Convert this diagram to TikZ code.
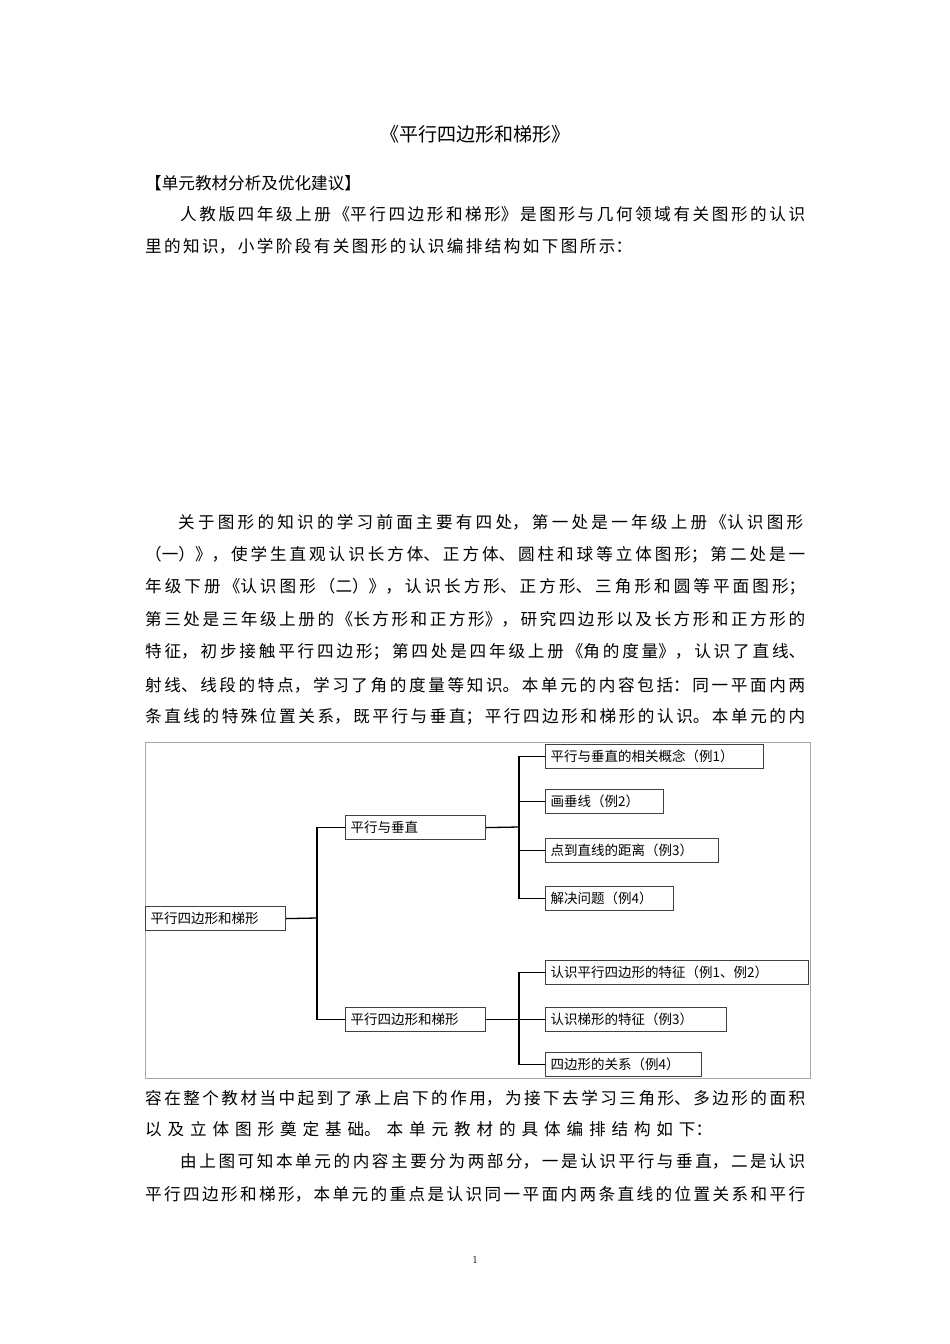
\documentclass[tikz,border=0pt]{standalone}
\usepackage{fontspec}
\newfontfamily\cjk{Noto Sans CJK SC}
\XeTeXlinebreaklocale "zh"
\XeTeXlinebreakskip=0pt plus 3pt
\newcommand{\jl}[1]{{\parfillskip=0pt\parindent=0pt #1\par}}
\begin{document}
\begin{tikzpicture}[x=1pt,y=-1pt,
  body/.style={anchor=west,inner sep=0,font=\cjk\fontsize{16.6}{18}\selectfont},
  fl/.style={body,text width=660pt,align=justify},
  il/.style={body,text width=625pt,align=justify},
  bx/.style={draw=black!75,line width=1.2pt,anchor=north west,inner ysep=0,inner xsep=5pt,minimum height=24pt,font=\cjk\fontsize{13.5}{15}\selectfont,align=left},
  ln/.style={line width=1.3pt}]
\useasboundingbox (0,0) rectangle (950,1344);
\node[anchor=center,font=\cjk\fontsize{19}{22}\selectfont] (title) at (475,134) {《平行四边形和梯形》};
\node[body] (h) at (145,183) {【单元教材分析及优化建议】};
\node[il] (p1) at (180,214) {\jl{人教版四年级上册《平行四边形和梯形》是图形与几何领域有关图形的认识}};
\node[body,text width=487pt,align=justify] (p2) at (145,246) {\jl{里的知识，小学阶段有关图形的认识编排结构如下图所示：}};
\node[il] (q1) at (178,522) {\jl{关于图形的知识的学习前面主要有四处，第一处是一年级上册《认识图形}};
\node[fl] (q2) at (145,555) {\jl{（一）》，使学生直观认识长方体、正方体、圆柱和球等立体图形；第二处是一}};
\node[fl] (q3) at (145,587) {\jl{年级下册《认识图形（二）》，认识长方形、正方形、三角形和圆等平面图形；}};
\node[fl] (q4) at (145,619) {\jl{第三处是三年级上册的《长方形和正方形》，研究四边形以及长方形和正方形的}};
\node[fl] (q5) at (145,652) {\jl{特征，初步接触平行四边形；第四处是四年级上册《角的度量》，认识了直线、}};
\node[fl] (q6) at (145,685) {\jl{射线、线段的特点，学习了角的度量等知识。本单元的内容包括：同一平面内两}};
\node[fl] (q7) at (145,717) {\jl{条直线的特殊位置关系，既平行与垂直；平行四边形和梯形的认识。本单元的内}};
\node[fl] (r1) at (145,1098) {\jl{容在整个教材当中起到了承上启下的作用，为接下去学习三角形、多边形的面积}};
\node[body,text width=567pt,align=justify] (r2) at (145,1129) {\jl{以及立体图形奠定基础。本单元教材的具体编排结构如下：}};
\node[il] (r3) at (180,1161) {\jl{由上图可知本单元的内容主要分为两部分，一是认识平行与垂直，二是认识}};
\node[fl] (r4) at (145,1194) {\jl{平行四边形和梯形，本单元的重点是认识同一平面内两条直线的位置关系和平行}};
\node[font=\fontsize{11}{12}\selectfont] (pg) at (475,1260) {1};
% diagram frame
\draw[black!35,line width=0.8pt] (145,742) rectangle (810,1078);
\node[bx,text width=130pt] (root) at (145,906) {平行四边形和梯形};
\node[bx,text width=130pt] (a) at (345,815) {平行与垂直};
\node[bx,text width=130pt] (b) at (345,1007) {平行四边形和梯形};
\node[bx,text width=208pt] (a1) at (545,744) {平行与垂直的相关概念（例1）};
\node[bx,text width=108pt] (a2) at (545,789) {画垂线（例2）};
\node[bx,text width=163pt] (a3) at (545,838) {点到直线的距离（例3）};
\node[bx,text width=118pt] (a4) at (545,886) {解决问题（例4）};
\node[bx,text width=253pt] (b1) at (545,960) {认识平行四边形的特征（例1、例2）};
\node[bx,text width=171pt] (b2) at (545,1007) {认识梯形的特征（例3）};
\node[bx,text width=146pt] (b3) at (545,1052) {四边形的关系（例4）};
\coordinate (j0) at (317,918);
\coordinate (j1) at (519,827);
\coordinate (j2) at (519,1019);
\draw[ln] (root.east) -- (j0);
\draw[ln] (a.west) -| (j0) |- (b.west);
\draw[ln] (a.east) -- (j1);
\draw[ln] (a1.west) -| (j1) |- (a4.west);
\draw[ln] (a2.west) -- (a2.west -| j1);
\draw[ln] (a3.west) -- (a3.west -| j1);
\draw[ln] (b.east) -- (b2.west);
\draw[ln] (b1.west) -| (j2) |- (b3.west);
\end{tikzpicture}
\end{document}
